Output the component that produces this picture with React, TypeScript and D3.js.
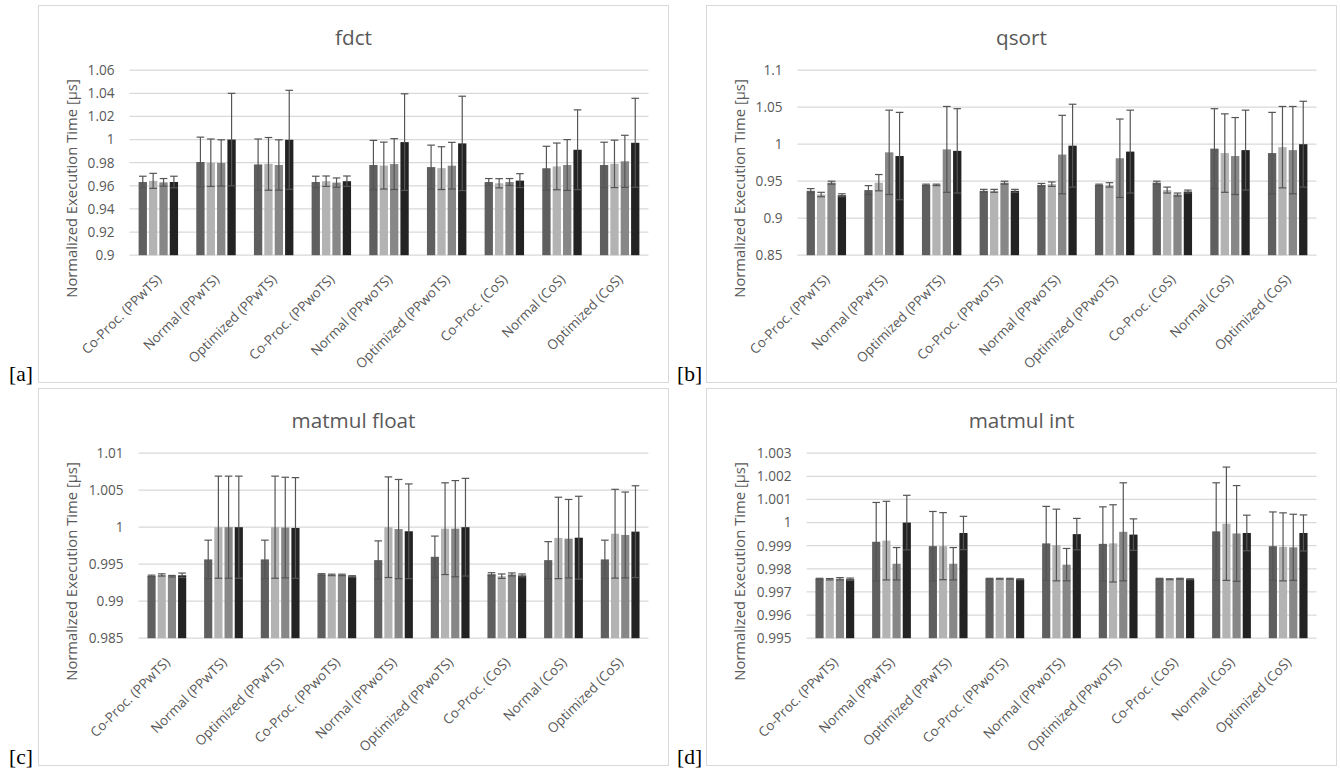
import React from 'react';
import * as d3 from 'd3';

// Benchmark configurations along the x axis
const categories = [
  'Co-Proc. (PPwTS)',
  'Normal (PPwTS)',
  'Optimized (PPwTS)',
  'Co-Proc. (PPwoTS)',
  'Normal (PPwoTS)',
  'Optimized (PPwoTS)',
  'Co-Proc. (CoS)',
  'Normal (CoS)',
  'Optimized (CoS)',
];

// Four measurement series per configuration
const seriesColors = ['#5f5f5f', '#b3b3b3', '#878787', '#232323'];

// fdct: mean normalized time and standard deviation, [configuration][series]
const fdctMeans = [
  [0.9633, 0.9643, 0.963, 0.9633],
  [0.9806, 0.98, 0.9798, 1.0],
  [0.9785, 0.979, 0.978, 0.9998],
  [0.9633, 0.964, 0.9628, 0.964],
  [0.978, 0.9775, 0.9788, 0.9978],
  [0.9762, 0.9753, 0.9774, 0.9967],
  [0.9633, 0.9622, 0.9633, 0.9645],
  [0.9752, 0.9768, 0.978, 0.9912],
  [0.978, 0.979, 0.9812, 0.9972],
];
const fdctErrors = [
  [0.005, 0.0065, 0.0033, 0.005],
  [0.0215, 0.0205, 0.02, 0.04],
  [0.022, 0.0228, 0.0218, 0.0428],
  [0.005, 0.0045, 0.004, 0.0045],
  [0.0213, 0.0203, 0.022, 0.0418],
  [0.019, 0.0185, 0.0202, 0.0408],
  [0.003, 0.004, 0.003, 0.006],
  [0.019, 0.0202, 0.022, 0.0345],
  [0.0197, 0.0205, 0.0225, 0.0385],
];
const fdctTicks = [0.9, 0.92, 0.94, 0.96, 0.98, 1, 1.02, 1.04, 1.06];

// qsort
const qsortMeans = [
  [0.937, 0.932, 0.948, 0.931],
  [0.938, 0.948, 0.989, 0.984],
  [0.945, 0.945, 0.993, 0.991],
  [0.937, 0.937, 0.948, 0.937],
  [0.945, 0.946, 0.986, 0.998],
  [0.945, 0.945, 0.981, 0.99],
  [0.948, 0.938, 0.932, 0.936],
  [0.994, 0.988, 0.984, 0.992],
  [0.988, 0.996, 0.992, 1.0],
];
const qsortErrors = [
  [0.003, 0.003, 0.002, 0.002],
  [0.006, 0.011, 0.057, 0.059],
  [0.001, 0.001, 0.058, 0.057],
  [0.002, 0.002, 0.002, 0.002],
  [0.002, 0.003, 0.053, 0.056],
  [0.001, 0.003, 0.053, 0.056],
  [0.002, 0.004, 0.002, 0.002],
  [0.054, 0.053, 0.052, 0.054],
  [0.055, 0.055, 0.059, 0.058],
];
const qsortTicks = [0.85, 0.9, 0.95, 1, 1.05, 1.1];

// matmul float
const matmulFloatMeans = [
  [0.99342, 0.99355, 0.99338, 0.9935],
  [0.99565, 1.0, 1.0, 1.0],
  [0.99565, 1.0, 0.99995, 0.9999],
  [0.99362, 0.99355, 0.99355, 0.99335],
  [0.99555, 1.0, 0.99975, 0.99945],
  [0.996, 0.9998, 0.9998, 1.0],
  [0.99365, 0.99338, 0.99362, 0.99348],
  [0.99555, 0.99855, 0.99845, 0.99858],
  [0.99565, 0.99912, 0.99895, 0.9994],
];
const matmulFloatErrors = [
  [0.0001, 0.00015, 0.0001, 0.0003],
  [0.0026, 0.0069, 0.0069, 0.0069],
  [0.0026, 0.0069, 0.0068, 0.0068],
  [0.0001, 0.0001, 0.0001, 0.0001],
  [0.0026, 0.0068, 0.0067, 0.0064],
  [0.0028, 0.0062, 0.0065, 0.0066],
  [0.0002, 0.0003, 0.0002, 0.0002],
  [0.0025, 0.0055, 0.0053, 0.0056],
  [0.0026, 0.006, 0.0058, 0.0062],
];
const matmulFloatTicks = [0.985, 0.99, 0.995, 1, 1.005, 1.01];

// matmul int
const matmulIntMeans = [
  [0.99757, 0.99755, 0.99757, 0.99755],
  [0.99917, 0.99922, 0.99822, 1.0],
  [0.99898, 0.99898, 0.99822, 0.99955],
  [0.99757, 0.99757, 0.99757, 0.99755],
  [0.9991, 0.99903, 0.99818, 0.9995],
  [0.99908, 0.9991, 0.9996, 0.99948],
  [0.99757, 0.99755, 0.99757, 0.99755],
  [0.99962, 0.99995, 0.99953, 0.99955],
  [0.99898, 0.99895, 0.99893, 0.99955],
];
const matmulIntErrors = [
  [0.00002, 0.00003, 0.00005, 0.00005],
  [0.0017, 0.0017, 0.0007, 0.00118],
  [0.0015, 0.00145, 0.0007, 0.00072],
  [0.00002, 0.00002, 0.00002, 0.00002],
  [0.0016, 0.00155, 0.0007, 0.00068],
  [0.0016, 0.00167, 0.00212, 0.00068],
  [0.00002, 0.00002, 0.00002, 0.00002],
  [0.0021, 0.00245, 0.00207, 0.00077],
  [0.00148, 0.00147, 0.00143, 0.00078],
];
const matmulIntTicks = [0.995, 0.996, 0.997, 0.998, 0.999, 1, 1.001, 1.002, 1.003];

const FONT = '"Open Sans", "DejaVu Sans", sans-serif';
const TEXT = '#595959';
const GRID = '#d9d9d9';
const FRAME_W = 630;
const FRAME_H = 377;

type PanelProps = {
  x: number;
  y: number;
  tag: string;
  title: string;
  means: number[][];
  errors: number[][];
  ticks: number[];
  leftPad: number;
};

function Panel({ x, y, tag, title, means, errors, ticks, leftPad }: PanelProps) {
  const left = x + leftPad;
  const right = x + 610;
  const top = y + 64.7;
  const bottom = y + 249.7;

  const yScale = d3
    .scaleLinear()
    .domain([ticks[0], ticks[ticks.length - 1]])
    .range([bottom, top]);
  const groupScale = d3
    .scaleBand<string>()
    .domain(categories)
    .range([left, right])
    .paddingInner(0.28)
    .paddingOuter(0.14);
  const seriesScale = d3
    .scaleBand<number>()
    .domain([0, 1, 2, 3])
    .range([0, groupScale.bandwidth()])
    .paddingInner(0.2)
    .paddingOuter(0.1);
  const fmt = (v: number) => String(+v.toFixed(4));
  const capHalf = 3.8;

  return (
    <g>
      <rect x={x} y={y} width={FRAME_W} height={FRAME_H} fill="#fff" stroke={GRID} strokeWidth={1} />
      <text
        x={x + FRAME_W / 2}
        y={y + 39}
        textAnchor="middle"
        fontFamily={FONT}
        fontSize={20.7}
        fill={TEXT}
      >
        {title}
      </text>
      {ticks.map((t) => (
        <g key={t}>
          <line x1={left} x2={right} y1={yScale(t)} y2={yScale(t)} stroke={GRID} strokeWidth={1.2} />
          <text
            x={left - 15}
            y={yScale(t)}
            dy="0.36em"
            textAnchor="end"
            fontFamily={FONT}
            fontSize={13.6}
            fill={TEXT}
          >
            {fmt(t)}
          </text>
        </g>
      ))}
      <text
        transform={`translate(${x + 38},${y + 183}) rotate(-90)`}
        textAnchor="middle"
        fontFamily={FONT}
        fontSize={14.8}
        fill={TEXT}
      >
        Normalized Execution Time [µs]
      </text>
      {categories.map((c, gi) => {
        const gx = groupScale(c) as number;
        return (
          <g key={c}>
            {means[gi].map((m, si) => {
              const bx = gx + (seriesScale(si) as number);
              const bw = seriesScale.bandwidth();
              return (
                <rect
                  key={si}
                  x={bx}
                  y={yScale(m)}
                  width={bw}
                  height={bottom - yScale(m)}
                  fill={seriesColors[si]}
                />
              );
            })}
            {means[gi].map((m, si) => {
              const cx = gx + (seriesScale(si) as number) + seriesScale.bandwidth() / 2;
              const e = errors[gi][si];
              const yHi = yScale(m + e);
              const yLo = yScale(m - e);
              return (
                <g key={'e' + si} stroke="#555" strokeWidth={1.2} fill="none">
                  <line x1={cx} x2={cx} y1={yHi} y2={yLo} />
                  <line x1={cx - capHalf} x2={cx + capHalf} y1={yHi} y2={yHi} />
                  <line x1={cx - capHalf} x2={cx + capHalf} y1={yLo} y2={yLo} />
                </g>
              );
            })}
            <text
              transform={`translate(${gx + groupScale.bandwidth() / 2 + 4},${bottom + 25}) rotate(-45)`}
              textAnchor="end"
              fontFamily={FONT}
              fontSize={13.5}
              fill={TEXT}
            >
              {c}
            </text>
          </g>
        );
      })}
      <text
        x={x - 29.5}
        y={y + 375}
        fontFamily='"Liberation Serif", "Times New Roman", serif'
        fontSize={21.5}
        fill="#000"
      >
        {tag}
      </text>
    </g>
  );
}

export default function App() {
  return (
    <svg
      width={1340}
      height={771}
      style={{ position: 'absolute', left: 0, top: 0, display: 'block', background: '#fff' }}
    >
      <Panel x={38.5} y={5.5} tag="[a]" title="fdct" means={fdctMeans} errors={fdctErrors} ticks={fdctTicks} leftPad={91} />
      <Panel x={706.5} y={5.5} tag="[b]" title="qsort" means={qsortMeans} errors={qsortErrors} ticks={qsortTicks} leftPad={91} />
      <Panel
        x={38.5}
        y={388.5}
        tag="[c]"
        title="matmul float"
        means={matmulFloatMeans}
        errors={matmulFloatErrors}
        ticks={matmulFloatTicks}
        leftPad={100}
      />
      <Panel
        x={706.5}
        y={388.5}
        tag="[d]"
        title="matmul int"
        means={matmulIntMeans}
        errors={matmulIntErrors}
        ticks={matmulIntTicks}
        leftPad={100}
      />
    </svg>
  );
}
